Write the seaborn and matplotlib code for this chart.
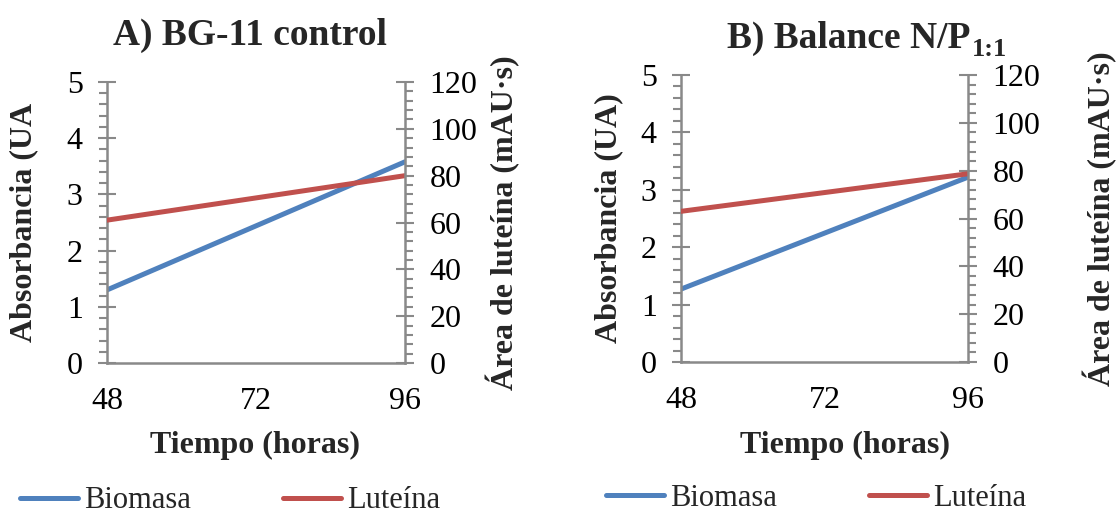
"""Biomasa vs luteína over time, two culture conditions."""
import matplotlib
matplotlib.use("Agg")
import matplotlib.pyplot as plt
import pandas as pd
import seaborn as sns
from matplotlib.lines import Line2D
from matplotlib.ticker import MultipleLocator

# data
horas = [48, 96]
biomasa_a = [1.30, 3.58]      # absorbancia (UA)
luteina_a = [61.0, 80.0]      # área (mAU·s)
biomasa_b = [1.27, 3.22]
luteina_b = [63.0, 78.7]

titles = ["A) BG-11 control", "B) Balance N/P"]
title_subs = ["", "1:1"]
ylabels_left = ["Absorbancia (UA", "Absorbancia (UA)"]
ylabel_right = "Área de luteína (mAU·s)"
xlabel = "Tiempo (horas)"
series_names = ["Biomasa", "Luteína"]

BLUE = "#4F81BD"
RED = "#C0504D"
GRAY = "#898989"

sns.set_theme(style="white")
plt.rcParams.update({
    "font.family": ["Liberation Serif", "DejaVu Serif"],
    "axes.edgecolor": GRAY,
    "axes.linewidth": 1.8,
})

fig = plt.figure(figsize=(11.17, 5.16), dpi=100)

W, H = 1117, 516
boxes = [(107, 405, 82, 363), (681, 968, 75, 362)]
datasets = [(biomasa_a, luteina_a), (biomasa_b, luteina_b)]
title_pos = [(250, 35), (727, 38)]
title_ha = ["center", "left"]
xlabel_x = [255, 845]
ylabel_left_x = [38, 623]
ylabel_right_x = [486, 1083]
legend_pos = [(20, 501), (606, 498)]


def style_ticks(axis_obj):
    axis_obj.tick_params(which="major", direction="inout", length=13, width=1.5,
                         color=GRAY, labelsize=23, pad=11, labelcolor="black")
    axis_obj.tick_params(which="minor", direction="out", length=6, width=1.5, color=GRAY)


for i, ((l, r, t, b), (bio, lut)) in enumerate(zip(boxes, datasets)):
    ax = fig.add_axes([l / W, 1 - b / H, (r - l) / W, (b - t) / H])
    df = pd.DataFrame({"horas": horas, "biomasa": bio, "luteina": lut})

    sns.lineplot(data=df, x="horas", y="biomasa", ax=ax, color=BLUE, linewidth=3.6,
                 solid_capstyle="round")
    ax.set_xlim(48, 96)
    ax.set_ylim(0, 5)
    ax.xaxis.set_major_locator(MultipleLocator(24))
    ax.xaxis.set_minor_locator(MultipleLocator(4.8))
    ax.yaxis.set_major_locator(MultipleLocator(1))
    ax.yaxis.set_minor_locator(MultipleLocator(0.2))
    style_ticks(ax)
    ax.spines["top"].set_visible(False)
    ax.spines["right"].set_visible(False)
    ax.set_xlabel(xlabel, fontsize=23, fontweight="bold")
    ax.set_ylabel(ylabels_left[i], fontsize=23, fontweight="bold")
    ax.xaxis.set_label_coords((xlabel_x[i] - l) / (r - l), -(431 - b) / (b - t))
    ax.yaxis.set_label_coords((ylabel_left_x[i] - l) / (r - l), 0.5)
    ax.grid(False)

    ax2 = ax.twinx()
    sns.lineplot(data=df, x="horas", y="luteina", ax=ax2, color=RED, linewidth=3.6,
                 solid_capstyle="round")
    ax2.set_ylim(0, 120)
    ax2.yaxis.set_major_locator(MultipleLocator(20))
    ax2.yaxis.set_minor_locator(MultipleLocator(4))
    style_ticks(ax2)
    ax2.spines["top"].set_visible(False)
    ax2.spines["left"].set_visible(False)
    ax2.spines["bottom"].set_visible(False)
    ax2.set_ylabel(ylabel_right, fontsize=23, fontweight="bold")
    ax2.yaxis.set_label_coords((ylabel_right_x[i] - l) / (r - l), 0.5)
    ax2.grid(False)
    ax.set_zorder(ax2.get_zorder() - 1)
    ax2.patch.set_visible(False)

    ttl = fig.text(title_pos[i][0] / W, 1 - title_pos[i][1] / H, titles[i], fontsize=27,
                   fontweight="bold", ha=title_ha[i], va="center")
    if title_subs[i]:
        fig.canvas.draw()
        ax.annotate(title_subs[i], xy=(1.0, 0.0), xycoords=ttl, xytext=(1, -4),
                    textcoords="offset points", fontsize=19, fontweight="bold",
                    ha="left", va="bottom", annotation_clip=False)

    handles = [Line2D([], [], color=BLUE, linewidth=3.6, solid_capstyle="round"),
               Line2D([], [], color=RED, linewidth=3.6, solid_capstyle="round")]
    fig.legend(handles, series_names, loc="center left", ncol=2, frameon=False,
               fontsize=22, handlelength=1.9, handletextpad=0.2, columnspacing=3.0,
               bbox_to_anchor=(legend_pos[i][0] / W, 1 - legend_pos[i][1] / H),
               borderaxespad=0, borderpad=0)

fig.savefig("out.png", dpi=100)
